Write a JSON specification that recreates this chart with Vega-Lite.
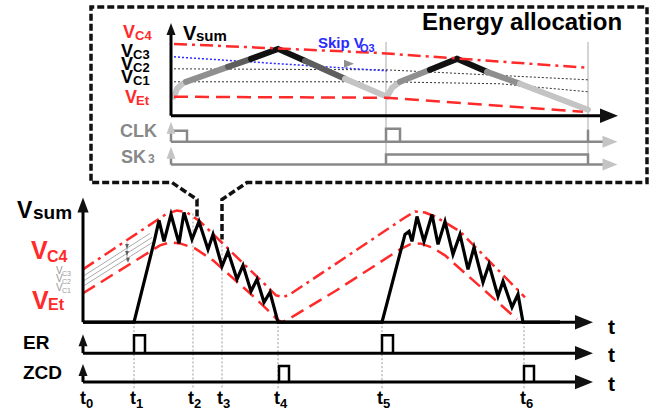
{
"$schema": "https://vega.github.io/schema/vega-lite/v6.json",
"width": 670, "height": 411,
"autosize": {"type": "fit", "contains": "padding"},
"padding": 0,
"background": "white",
"config": {"view": {"stroke": null}, "text": {"font": "Liberation Sans"}},
"datasets": {
"lines": [
{"k":"co","id":"c1","o":0,"x":197,"y":217},{"k":"co","id":"c1","o":1,"x":197,"y":200},{"k":"co","id":"c1","o":2,"x":172,"y":183},{"k":"co","id":"c1","o":3,"x":91,"y":183},{"k":"co","id":"c1","o":4,"x":91,"y":7},{"k":"co","id":"c1","o":5,"x":647,"y":7},{"k":"co","id":"c1","o":6,"x":647,"y":183},{"k":"co","id":"c1","o":7,"x":247,"y":183},{"k":"co","id":"c1","o":8,"x":222,"y":200},{"k":"co","id":"c1","o":9,"x":222,"y":240},
{"k":"gd","id":"g1","o":0,"x":134,"y":323},{"k":"gd","id":"g1","o":1,"x":134,"y":390},
{"k":"gd","id":"g2","o":0,"x":193,"y":214},{"k":"gd","id":"g2","o":1,"x":193,"y":390},
{"k":"gd","id":"g3","o":0,"x":222,"y":242},{"k":"gd","id":"g3","o":1,"x":222,"y":390},
{"k":"gd","id":"g4","o":0,"x":278,"y":323},{"k":"gd","id":"g4","o":1,"x":278,"y":390},
{"k":"gd","id":"g5","o":0,"x":382,"y":323},{"k":"gd","id":"g5","o":1,"x":382,"y":390},
{"k":"gd","id":"g6","o":0,"x":524,"y":323},{"k":"gd","id":"g6","o":1,"x":524,"y":390},
{"k":"tg","id":"v1","o":0,"x":83,"y":277},{"k":"tg","id":"v1","o":1,"x":150,"y":234},
{"k":"tg","id":"v2","o":0,"x":83,"y":282},{"k":"tg","id":"v2","o":1,"x":152,"y":238},
{"k":"tg","id":"v3","o":0,"x":83,"y":287},{"k":"tg","id":"v3","o":1,"x":154,"y":242},
{"k":"tg","id":"v4","o":0,"x":127,"y":243},{"k":"tg","id":"v4","o":1,"x":127,"y":262},
{"k":"tg","id":"v5","o":0,"x":386,"y":42},{"k":"tg","id":"v5","o":1,"x":386,"y":165},
{"k":"tg","id":"v6","o":0,"x":588,"y":42},{"k":"tg","id":"v6","o":1,"x":588,"y":165},
{"k":"kd","id":"k1","o":0,"x":174,"y":69},{"k":"kd","id":"k1","o":1,"x":386,"y":70},{"k":"kd","id":"k1","o":2,"x":588,"y":80},
{"k":"kd","id":"k2","o":0,"x":174,"y":82},{"k":"kd","id":"k2","o":1,"x":386,"y":82},{"k":"kd","id":"k2","o":2,"x":500,"y":84},{"k":"kd","id":"k2","o":3,"x":588,"y":92},
{"k":"bd","id":"b1","o":0,"x":174,"y":57},{"k":"bd","id":"b1","o":1,"x":387,"y":71},
{"k":"iw","sh":"l","id":"s1","o":0,"x":174,"y":97},{"k":"iw","sh":"l","id":"s1","o":1,"x":177,"y":89},{"k":"iw","sh":"l","id":"s1","o":2,"x":181,"y":85},{"k":"iw","sh":"l","id":"s1","o":3,"x":186,"y":82},
{"k":"iw","sh":"m","id":"s2","o":0,"x":186,"y":82},{"k":"iw","sh":"m","id":"s2","o":1,"x":228,"y":67},
{"k":"iw","sh":"d","id":"s3","o":0,"x":228,"y":67},{"k":"iw","sh":"d","id":"s3","o":1,"x":251,"y":59},
{"k":"iw","sh":"k","id":"s4","o":0,"x":251,"y":59},{"k":"iw","sh":"k","id":"s4","o":1,"x":278,"y":49},{"k":"iw","sh":"k","id":"s4","o":2,"x":305,"y":61},
{"k":"iw","sh":"d","id":"s5","o":0,"x":305,"y":61},{"k":"iw","sh":"d","id":"s5","o":1,"x":345,"y":79},
{"k":"iw","sh":"l","id":"s6","o":0,"x":345,"y":79},{"k":"iw","sh":"l","id":"s6","o":1,"x":387,"y":97},
{"k":"iw","sh":"l","id":"s7","o":0,"x":387,"y":97},{"k":"iw","sh":"l","id":"s7","o":1,"x":392,"y":88},{"k":"iw","sh":"l","id":"s7","o":2,"x":400,"y":82},
{"k":"iw","sh":"m","id":"s8","o":0,"x":400,"y":82},{"k":"iw","sh":"m","id":"s8","o":1,"x":430,"y":70},
{"k":"iw","sh":"k","id":"s9","o":0,"x":430,"y":70},{"k":"iw","sh":"k","id":"s9","o":1,"x":457,"y":59},{"k":"iw","sh":"k","id":"s9","o":2,"x":487,"y":72},
{"k":"iw","sh":"m","id":"s10","o":0,"x":487,"y":72},{"k":"iw","sh":"m","id":"s10","o":1,"x":520,"y":84},
{"k":"iw","sh":"l","id":"s11","o":0,"x":520,"y":84},{"k":"iw","sh":"l","id":"s11","o":1,"x":588,"y":110},
{"k":"rdd","id":"e1","o":0,"x":83,"y":270},{"k":"rdd","id":"e1","o":1,"x":167,"y":214},{"k":"rdd","id":"e1","o":2,"x":177,"y":211},{"k":"rdd","id":"e1","o":3,"x":187,"y":213},{"k":"rdd","id":"e1","o":4,"x":200,"y":222},{"k":"rdd","id":"e1","o":5,"x":270,"y":290},{"k":"rdd","id":"e1","o":6,"x":276,"y":296},{"k":"rdd","id":"e1","o":7,"x":283,"y":298},{"k":"rdd","id":"e1","o":8,"x":290,"y":295},{"k":"rdd","id":"e1","o":9,"x":335,"y":265},{"k":"rdd","id":"e1","o":10,"x":405,"y":218},{"k":"rdd","id":"e1","o":11,"x":415,"y":212},{"k":"rdd","id":"e1","o":12,"x":425,"y":213},{"k":"rdd","id":"e1","o":13,"x":435,"y":217},{"k":"rdd","id":"e1","o":14,"x":460,"y":232},{"k":"rdd","id":"e1","o":15,"x":525,"y":298},
{"k":"rdd","id":"e2","o":0,"x":174,"y":44},{"k":"rdd","id":"e2","o":1,"x":378,"y":53},{"k":"rdd","id":"e2","o":2,"x":588,"y":68},
{"k":"rd","id":"d1","o":0,"x":83,"y":294},{"k":"rd","id":"d1","o":1,"x":160,"y":246},{"k":"rd","id":"d1","o":2,"x":170,"y":243},{"k":"rd","id":"d1","o":3,"x":180,"y":244},{"k":"rd","id":"d1","o":4,"x":195,"y":249},{"k":"rd","id":"d1","o":5,"x":213,"y":261},{"k":"rd","id":"d1","o":6,"x":250,"y":294},{"k":"rd","id":"d1","o":7,"x":270,"y":313},{"k":"rd","id":"d1","o":8,"x":277,"y":320},{"k":"rd","id":"d1","o":9,"x":282,"y":323},{"k":"rd","id":"d1","o":10,"x":290,"y":319},{"k":"rd","id":"d1","o":11,"x":335,"y":292},{"k":"rd","id":"d1","o":12,"x":400,"y":250},{"k":"rd","id":"d1","o":13,"x":410,"y":245},{"k":"rd","id":"d1","o":14,"x":420,"y":244},{"k":"rd","id":"d1","o":15,"x":432,"y":248},{"k":"rd","id":"d1","o":16,"x":445,"y":256},{"k":"rd","id":"d1","o":17,"x":517,"y":320},
{"k":"rd","id":"d2","o":0,"x":174,"y":97},{"k":"rd","id":"d2","o":1,"x":386,"y":98},{"k":"rd","id":"d2","o":2,"x":583,"y":112},
{"k":"ga","id":"q1","o":0,"x":171,"y":142},{"k":"ga","id":"q1","o":1,"x":603,"y":142},
{"k":"ga","id":"q2","o":0,"x":171,"y":142},{"k":"ga","id":"q2","o":1,"x":171,"y":133},
{"k":"ga","id":"q3","o":0,"x":171,"y":131},{"k":"ga","id":"q3","o":1,"x":187,"y":131},{"k":"ga","id":"q3","o":2,"x":187,"y":142},
{"k":"ga","id":"q4","o":0,"x":386,"y":142},{"k":"ga","id":"q4","o":1,"x":386,"y":129},{"k":"ga","id":"q4","o":2,"x":400,"y":129},{"k":"ga","id":"q4","o":3,"x":400,"y":142},
{"k":"ga","id":"q5","o":0,"x":588,"y":142},{"k":"ga","id":"q5","o":1,"x":588,"y":130},
{"k":"ga","id":"q6","o":0,"x":171,"y":165},{"k":"ga","id":"q6","o":1,"x":603,"y":165},
{"k":"ga","id":"q7","o":0,"x":171,"y":165},{"k":"ga","id":"q7","o":1,"x":171,"y":157},
{"k":"ga","id":"q8","o":0,"x":386,"y":165},{"k":"ga","id":"q8","o":1,"x":386,"y":155},{"k":"ga","id":"q8","o":2,"x":588,"y":155},{"k":"ga","id":"q8","o":3,"x":588,"y":165},
{"k":"ax","id":"a1","o":0,"x":83,"y":323},{"k":"ax","id":"a1","o":1,"x":83,"y":212},
{"k":"ax","id":"a2","o":0,"x":83,"y":323},{"k":"ax","id":"a2","o":1,"x":578,"y":323},
{"k":"ax","id":"a3","o":0,"x":83,"y":354},{"k":"ax","id":"a3","o":1,"x":83,"y":346},
{"k":"ax","id":"a4","o":0,"x":83,"y":354},{"k":"ax","id":"a4","o":1,"x":578,"y":354},
{"k":"ax","id":"a5","o":0,"x":83,"y":383},{"k":"ax","id":"a5","o":1,"x":83,"y":376},
{"k":"ax","id":"a6","o":0,"x":83,"y":383},{"k":"ax","id":"a6","o":1,"x":578,"y":383},
{"k":"ax","id":"a7","o":0,"x":171,"y":116},{"k":"ax","id":"a7","o":1,"x":171,"y":34},
{"k":"ax","id":"a8","o":0,"x":171,"y":116},{"k":"ax","id":"a8","o":1,"x":603,"y":116},
{"k":"wv","id":"w1","o":0,"x":83,"y":323},{"k":"wv","id":"w1","o":1,"x":134,"y":323},{"k":"wv","id":"w1","o":2,"x":154,"y":243},{"k":"wv","id":"w1","o":3,"x":159,"y":221},{"k":"wv","id":"w1","o":4,"x":164,"y":242},{"k":"wv","id":"w1","o":5,"x":171,"y":215},{"k":"wv","id":"w1","o":6,"x":179,"y":244},{"k":"wv","id":"w1","o":7,"x":184,"y":213},{"k":"wv","id":"w1","o":8,"x":192,"y":240},{"k":"wv","id":"w1","o":9,"x":199,"y":222},{"k":"wv","id":"w1","o":10,"x":208,"y":250},{"k":"wv","id":"w1","o":11,"x":213,"y":235},{"k":"wv","id":"w1","o":12,"x":222,"y":267},{"k":"wv","id":"w1","o":13,"x":228,"y":252},{"k":"wv","id":"w1","o":14,"x":237,"y":280},{"k":"wv","id":"w1","o":15,"x":243,"y":266},{"k":"wv","id":"w1","o":16,"x":251,"y":292},{"k":"wv","id":"w1","o":17,"x":257,"y":280},{"k":"wv","id":"w1","o":18,"x":264,"y":303},{"k":"wv","id":"w1","o":19,"x":270,"y":293},{"k":"wv","id":"w1","o":20,"x":278,"y":323},{"k":"wv","id":"w1","o":21,"x":382,"y":323},{"k":"wv","id":"w1","o":22,"x":405,"y":235},{"k":"wv","id":"w1","o":23,"x":409,"y":232},{"k":"wv","id":"w1","o":24,"x":412,"y":242},{"k":"wv","id":"w1","o":25,"x":417,"y":217},{"k":"wv","id":"w1","o":26,"x":424,"y":242},{"k":"wv","id":"w1","o":27,"x":432,"y":215},{"k":"wv","id":"w1","o":28,"x":438,"y":245},{"k":"wv","id":"w1","o":29,"x":445,"y":222},{"k":"wv","id":"w1","o":30,"x":453,"y":255},{"k":"wv","id":"w1","o":31,"x":460,"y":235},{"k":"wv","id":"w1","o":32,"x":468,"y":270},{"k":"wv","id":"w1","o":33,"x":474,"y":248},{"k":"wv","id":"w1","o":34,"x":483,"y":283},{"k":"wv","id":"w1","o":35,"x":489,"y":265},{"k":"wv","id":"w1","o":36,"x":498,"y":297},{"k":"wv","id":"w1","o":37,"x":503,"y":282},{"k":"wv","id":"w1","o":38,"x":512,"y":308},{"k":"wv","id":"w1","o":39,"x":518,"y":295},{"k":"wv","id":"w1","o":40,"x":523,"y":323},{"k":"wv","id":"w1","o":41,"x":560,"y":323},
{"k":"pl","id":"p1","o":0,"x":134,"y":354},{"k":"pl","id":"p1","o":1,"x":134,"y":336},{"k":"pl","id":"p1","o":2,"x":145,"y":336},{"k":"pl","id":"p1","o":3,"x":145,"y":354},
{"k":"pl","id":"p2","o":0,"x":382,"y":354},{"k":"pl","id":"p2","o":1,"x":382,"y":336},{"k":"pl","id":"p2","o":2,"x":393,"y":336},{"k":"pl","id":"p2","o":3,"x":393,"y":354},
{"k":"pl","id":"p3","o":0,"x":279,"y":383},{"k":"pl","id":"p3","o":1,"x":279,"y":367},{"k":"pl","id":"p3","o":2,"x":289,"y":367},{"k":"pl","id":"p3","o":3,"x":289,"y":383},
{"k":"pl","id":"p4","o":0,"x":524,"y":383},{"k":"pl","id":"p4","o":1,"x":524,"y":367},{"k":"pl","id":"p4","o":2,"x":534,"y":367},{"k":"pl","id":"p4","o":3,"x":534,"y":383}
],
"arr": [
{"x":83,"y":205.5,"d":"up","t":"k","s":"M"},
{"x":83,"y":341,"d":"up","t":"k","s":"S"},
{"x":83,"y":371,"d":"up","t":"k","s":"S"},
{"x":584,"y":323,"d":"right","t":"k","s":"L"},
{"x":584,"y":354,"d":"right","t":"k","s":"L"},
{"x":584,"y":383,"d":"right","t":"k","s":"L"},
{"x":171,"y":29,"d":"up","t":"k","s":"S"},
{"x":609,"y":116,"d":"right","t":"k","s":"L"},
{"x":171,"y":128,"d":"up","t":"g","s":"S"},
{"x":171,"y":153,"d":"up","t":"g","s":"S"},
{"x":610,"y":142,"d":"right","t":"g","s":"M"},
{"x":610,"y":165,"d":"right","t":"g","s":"M"},
{"x":349,"y":64,"d":"right","t":"b","s":"XS"},
{"x":127,"y":247,"d":"down","t":"lg","s":"T"},
{"x":127,"y":254,"d":"down","t":"lg","s":"T"},
{"x":128,"y":261,"d":"down","t":"lg","s":"T"}
],
"txt": [
{"r":"mV","t":"V","x":17,"y":219},
{"r":"mS","t":"sum","x":33,"y":220},
{"r":"mL","t":"ER","x":23,"y":350},
{"r":"mL","t":"ZCD","x":23,"y":380},
{"r":"rV","t":"V","x":31,"y":260},
{"r":"rV","t":"V","x":32,"y":310},
{"r":"rS","t":"C4","x":47,"y":263},
{"r":"rS","t":"Et","x":48,"y":311},
{"r":"gV","t":"V","x":56,"y":275},
{"r":"gV","t":"V","x":56,"y":283},
{"r":"gV","t":"V","x":56,"y":292},
{"r":"gS","t":"C3","x":62,"y":277},
{"r":"gS","t":"C2","x":62,"y":285},
{"r":"gS","t":"C1","x":62,"y":294},
{"r":"tT","t":"t","x":80,"y":405},
{"r":"tT","t":"t","x":130,"y":405},
{"r":"tT","t":"t","x":188,"y":405},
{"r":"tT","t":"t","x":217,"y":405},
{"r":"tT","t":"t","x":274,"y":405},
{"r":"tT","t":"t","x":377,"y":405},
{"r":"tT","t":"t","x":520,"y":405},
{"r":"tS","t":"0","x":86,"y":409},
{"r":"tS","t":"1","x":136,"y":409},
{"r":"tS","t":"2","x":194,"y":409},
{"r":"tS","t":"3","x":223,"y":409},
{"r":"tS","t":"4","x":280,"y":409},
{"r":"tS","t":"5","x":383,"y":409},
{"r":"tS","t":"6","x":526,"y":409},
{"r":"tR","t":"t","x":608,"y":335},
{"r":"tR","t":"t","x":608,"y":363},
{"r":"tR","t":"t","x":608,"y":392},
{"r":"ti","t":"Energy allocation","x":422,"y":30},
{"r":"iVb","t":"V","x":183,"y":40},
{"r":"iV","t":"V","x":121,"y":57},
{"r":"iV","t":"V","x":121,"y":70},
{"r":"iV","t":"V","x":121,"y":83},
{"r":"iSb","t":"sum","x":196,"y":41},
{"r":"iS","t":"C3","x":133,"y":59},
{"r":"iS","t":"C2","x":133,"y":72},
{"r":"iS","t":"C1","x":133,"y":85},
{"r":"irV","t":"V","x":123,"y":38},
{"r":"irV","t":"V","x":125,"y":103},
{"r":"irS","t":"C4","x":135,"y":40},
{"r":"irS","t":"Et","x":136,"y":105},
{"r":"bV","t":"Skip V","x":318,"y":48},
{"r":"bS","t":"O3","x":360,"y":52},
{"r":"cL","t":"CLK","x":120,"y":137},
{"r":"cL","t":"SK","x":121,"y":163},
{"r":"cS","t":"3","x":148,"y":163}
]
},
"encoding": {
"x": {"field": "x", "type": "quantitative", "scale": {"domain": [0, 670], "nice": false, "zero": false}, "axis": null},
"y": {"field": "y", "type": "quantitative", "scale": {"domain": [0, 411], "nice": false, "zero": false, "reverse": true}, "axis": null}
},
"layer": [
{"data": {"name": "lines"}, "transform": [{"filter": "datum.k==='co'"}], "mark": {"type": "line", "color": "#111", "strokeWidth": 3.5, "strokeDash": [7, 3]}, "encoding": {"detail": {"field": "id"}, "order": {"field": "o", "type": "quantitative"}}},
{"data": {"name": "lines"}, "transform": [{"filter": "datum.k==='gd'"}], "mark": {"type": "line", "color": "#999", "strokeWidth": 1, "strokeDash": [2, 2]}, "encoding": {"detail": {"field": "id"}, "order": {"field": "o", "type": "quantitative"}}},
{"data": {"name": "lines"}, "transform": [{"filter": "datum.k==='tg'"}], "mark": {"type": "line", "color": "#aaa", "strokeWidth": 1}, "encoding": {"detail": {"field": "id"}, "order": {"field": "o", "type": "quantitative"}}},
{"data": {"name": "lines"}, "transform": [{"filter": "datum.k==='kd'"}], "mark": {"type": "line", "color": "#333", "strokeWidth": 1, "strokeDash": [2, 2]}, "encoding": {"detail": {"field": "id"}, "order": {"field": "o", "type": "quantitative"}}},
{"data": {"name": "lines"}, "transform": [{"filter": "datum.k==='bd'"}], "mark": {"type": "line", "color": "#2a2aff", "strokeWidth": 1.5, "strokeDash": [2, 2]}, "encoding": {"detail": {"field": "id"}, "order": {"field": "o", "type": "quantitative"}}},
{"data": {"name": "lines"}, "transform": [{"filter": "datum.k==='iw'"}], "mark": {"type": "line", "strokeWidth": 6, "strokeCap": "round"}, "encoding": {"detail": {"field": "id"}, "order": {"field": "o", "type": "quantitative"}, "color": {"field": "sh", "type": "nominal", "scale": {"domain": ["l", "m", "d", "k"], "range": ["#c4c4c4", "#8f8f8f", "#5e5e5e", "#111111"]}, "legend": null}}},
{"data": {"name": "lines"}, "transform": [{"filter": "datum.k==='rdd'"}], "mark": {"type": "line", "color": "#ff2a2a", "strokeWidth": 2.5, "strokeDash": [13, 5, 3, 5]}, "encoding": {"detail": {"field": "id"}, "order": {"field": "o", "type": "quantitative"}}},
{"data": {"name": "lines"}, "transform": [{"filter": "datum.k==='rd'"}], "mark": {"type": "line", "color": "#ff2a2a", "strokeWidth": 2.5, "strokeDash": [14, 7]}, "encoding": {"detail": {"field": "id"}, "order": {"field": "o", "type": "quantitative"}}},
{"data": {"name": "lines"}, "transform": [{"filter": "datum.k==='ga'"}], "mark": {"type": "line", "color": "#888", "strokeWidth": 2.5}, "encoding": {"detail": {"field": "id"}, "order": {"field": "o", "type": "quantitative"}}},
{"data": {"name": "lines"}, "transform": [{"filter": "datum.k==='ax'"}], "mark": {"type": "line", "color": "#000", "strokeWidth": 3}, "encoding": {"detail": {"field": "id"}, "order": {"field": "o", "type": "quantitative"}}},
{"data": {"name": "lines"}, "transform": [{"filter": "datum.k==='wv'"}], "mark": {"type": "line", "color": "#000", "strokeWidth": 3.2}, "encoding": {"detail": {"field": "id"}, "order": {"field": "o", "type": "quantitative"}}},
{"data": {"name": "lines"}, "transform": [{"filter": "datum.k==='pl'"}], "mark": {"type": "line", "color": "#000", "strokeWidth": 2.5}, "encoding": {"detail": {"field": "id"}, "order": {"field": "o", "type": "quantitative"}}},
{"data": {"name": "arr"}, "transform": [{"filter": "datum.s==='L'"}], "mark": {"type": "point", "filled": true, "opacity": 1, "size": 324, "strokeWidth": 0}, "encoding": {"shape": {"field": "d", "type": "nominal", "scale": {"domain": ["up", "right", "down"], "range": ["M0,-1L0.75,1L-0.75,1Z", "M1,0L-1,0.8L-1,-0.8Z", "M0,1L0.75,-1L-0.75,-1Z"]}, "legend": null}, "color": {"field": "t", "type": "nominal", "scale": {"domain": ["k", "g", "b", "lg"], "range": ["#000000", "#888888", "#2a2aff", "#999999"]}, "legend": null}}},
{"data": {"name": "arr"}, "transform": [{"filter": "datum.s==='M'"}], "mark": {"type": "point", "filled": true, "opacity": 1, "size": 225, "strokeWidth": 0}, "encoding": {"shape": {"field": "d", "type": "nominal", "scale": {"domain": ["up", "right", "down"], "range": ["M0,-1L0.75,1L-0.75,1Z", "M1,0L-1,0.8L-1,-0.8Z", "M0,1L0.75,-1L-0.75,-1Z"]}, "legend": null}, "color": {"field": "t", "type": "nominal", "scale": {"domain": ["k", "g", "b", "lg"], "range": ["#000000", "#888888", "#2a2aff", "#999999"]}, "legend": null}}},
{"data": {"name": "arr"}, "transform": [{"filter": "datum.s==='S'"}], "mark": {"type": "point", "filled": true, "opacity": 1, "size": 144, "strokeWidth": 0}, "encoding": {"shape": {"field": "d", "type": "nominal", "scale": {"domain": ["up", "right", "down"], "range": ["M0,-1L0.75,1L-0.75,1Z", "M1,0L-1,0.8L-1,-0.8Z", "M0,1L0.75,-1L-0.75,-1Z"]}, "legend": null}, "color": {"field": "t", "type": "nominal", "scale": {"domain": ["k", "g", "b", "lg"], "range": ["#000000", "#888888", "#2a2aff", "#999999"]}, "legend": null}}},
{"data": {"name": "arr"}, "transform": [{"filter": "datum.s==='XS'"}], "mark": {"type": "point", "filled": true, "opacity": 1, "size": 100, "strokeWidth": 0}, "encoding": {"shape": {"field": "d", "type": "nominal", "scale": {"domain": ["up", "right", "down"], "range": ["M0,-1L0.75,1L-0.75,1Z", "M1,0L-1,0.8L-1,-0.8Z", "M0,1L0.75,-1L-0.75,-1Z"]}, "legend": null}, "color": {"field": "t", "type": "nominal", "scale": {"domain": ["k", "g", "b", "lg"], "range": ["#000000", "#888888", "#2a2aff", "#999999"]}, "legend": null}}},
{"data": {"name": "arr"}, "transform": [{"filter": "datum.s==='T'"}], "mark": {"type": "point", "filled": true, "opacity": 1, "size": 25, "strokeWidth": 0}, "encoding": {"shape": {"field": "d", "type": "nominal", "scale": {"domain": ["up", "right", "down"], "range": ["M0,-1L0.75,1L-0.75,1Z", "M1,0L-1,0.8L-1,-0.8Z", "M0,1L0.75,-1L-0.75,-1Z"]}, "legend": null}, "color": {"field": "t", "type": "nominal", "scale": {"domain": ["k", "g", "b", "lg"], "range": ["#000000", "#888888", "#2a2aff", "#999999"]}, "legend": null}}},
{"data": {"name": "txt"}, "transform": [{"filter": "datum.r==='mV'"}], "mark": {"type": "text", "align": "left", "baseline": "alphabetic", "fontSize": 23, "fontWeight": "bold", "color": "#000"}, "encoding": {"text": {"field": "t"}}},
{"data": {"name": "txt"}, "transform": [{"filter": "datum.r==='mS' || datum.r==='mL'"}], "mark": {"type": "text", "align": "left", "baseline": "alphabetic", "fontSize": 19, "fontWeight": "bold", "color": "#000"}, "encoding": {"text": {"field": "t"}}},
{"data": {"name": "txt"}, "transform": [{"filter": "datum.r==='rV'"}], "mark": {"type": "text", "align": "left", "baseline": "alphabetic", "fontSize": 25, "fontWeight": "bold", "color": "#ff2a2a"}, "encoding": {"text": {"field": "t"}}},
{"data": {"name": "txt"}, "transform": [{"filter": "datum.r==='rS'"}], "mark": {"type": "text", "align": "left", "baseline": "alphabetic", "fontSize": 16, "fontWeight": "bold", "color": "#ff2a2a"}, "encoding": {"text": {"field": "t"}}},
{"data": {"name": "txt"}, "transform": [{"filter": "datum.r==='gV'"}], "mark": {"type": "text", "align": "left", "baseline": "alphabetic", "fontSize": 10, "color": "#999"}, "encoding": {"text": {"field": "t"}}},
{"data": {"name": "txt"}, "transform": [{"filter": "datum.r==='gS'"}], "mark": {"type": "text", "align": "left", "baseline": "alphabetic", "fontSize": 7, "color": "#999"}, "encoding": {"text": {"field": "t"}}},
{"data": {"name": "txt"}, "transform": [{"filter": "datum.r==='tT'"}], "mark": {"type": "text", "align": "left", "baseline": "alphabetic", "fontSize": 18, "fontWeight": "bold", "color": "#000"}, "encoding": {"text": {"field": "t"}}},
{"data": {"name": "txt"}, "transform": [{"filter": "datum.r==='tS'"}], "mark": {"type": "text", "align": "left", "baseline": "alphabetic", "fontSize": 13, "fontWeight": "bold", "color": "#000"}, "encoding": {"text": {"field": "t"}}},
{"data": {"name": "txt"}, "transform": [{"filter": "datum.r==='tR'"}], "mark": {"type": "text", "align": "left", "baseline": "alphabetic", "fontSize": 21, "fontWeight": "bold", "color": "#000"}, "encoding": {"text": {"field": "t"}}},
{"data": {"name": "txt"}, "transform": [{"filter": "datum.r==='ti'"}], "mark": {"type": "text", "align": "left", "baseline": "alphabetic", "fontSize": 24, "fontWeight": "bold", "color": "#000"}, "encoding": {"text": {"field": "t"}}},
{"data": {"name": "txt"}, "transform": [{"filter": "datum.r==='iVb'"}], "mark": {"type": "text", "align": "left", "baseline": "alphabetic", "fontSize": 20, "fontWeight": "bold", "color": "#000"}, "encoding": {"text": {"field": "t"}}},
{"data": {"name": "txt"}, "transform": [{"filter": "datum.r==='iSb'"}], "mark": {"type": "text", "align": "left", "baseline": "alphabetic", "fontSize": 15, "fontWeight": "bold", "color": "#000"}, "encoding": {"text": {"field": "t"}}},
{"data": {"name": "txt"}, "transform": [{"filter": "datum.r==='iV'"}], "mark": {"type": "text", "align": "left", "baseline": "alphabetic", "fontSize": 18, "fontWeight": "bold", "color": "#000"}, "encoding": {"text": {"field": "t"}}},
{"data": {"name": "txt"}, "transform": [{"filter": "datum.r==='iS'"}], "mark": {"type": "text", "align": "left", "baseline": "alphabetic", "fontSize": 13, "fontWeight": "bold", "color": "#000"}, "encoding": {"text": {"field": "t"}}},
{"data": {"name": "txt"}, "transform": [{"filter": "datum.r==='irV'"}], "mark": {"type": "text", "align": "left", "baseline": "alphabetic", "fontSize": 18, "fontWeight": "bold", "color": "#ff2a2a"}, "encoding": {"text": {"field": "t"}}},
{"data": {"name": "txt"}, "transform": [{"filter": "datum.r==='irS'"}], "mark": {"type": "text", "align": "left", "baseline": "alphabetic", "fontSize": 13, "fontWeight": "bold", "color": "#ff2a2a"}, "encoding": {"text": {"field": "t"}}},
{"data": {"name": "txt"}, "transform": [{"filter": "datum.r==='bV'"}], "mark": {"type": "text", "align": "left", "baseline": "alphabetic", "fontSize": 15, "fontWeight": "bold", "color": "#2a2aff"}, "encoding": {"text": {"field": "t"}}},
{"data": {"name": "txt"}, "transform": [{"filter": "datum.r==='bS'"}], "mark": {"type": "text", "align": "left", "baseline": "alphabetic", "fontSize": 11, "fontWeight": "bold", "color": "#2a2aff"}, "encoding": {"text": {"field": "t"}}},
{"data": {"name": "txt"}, "transform": [{"filter": "datum.r==='cL'"}], "mark": {"type": "text", "align": "left", "baseline": "alphabetic", "fontSize": 18, "fontWeight": "bold", "color": "#888"}, "encoding": {"text": {"field": "t"}}},
{"data": {"name": "txt"}, "transform": [{"filter": "datum.r==='cS'"}], "mark": {"type": "text", "align": "left", "baseline": "alphabetic", "fontSize": 12, "fontWeight": "bold", "color": "#888"}, "encoding": {"text": {"field": "t"}}}
]
}
